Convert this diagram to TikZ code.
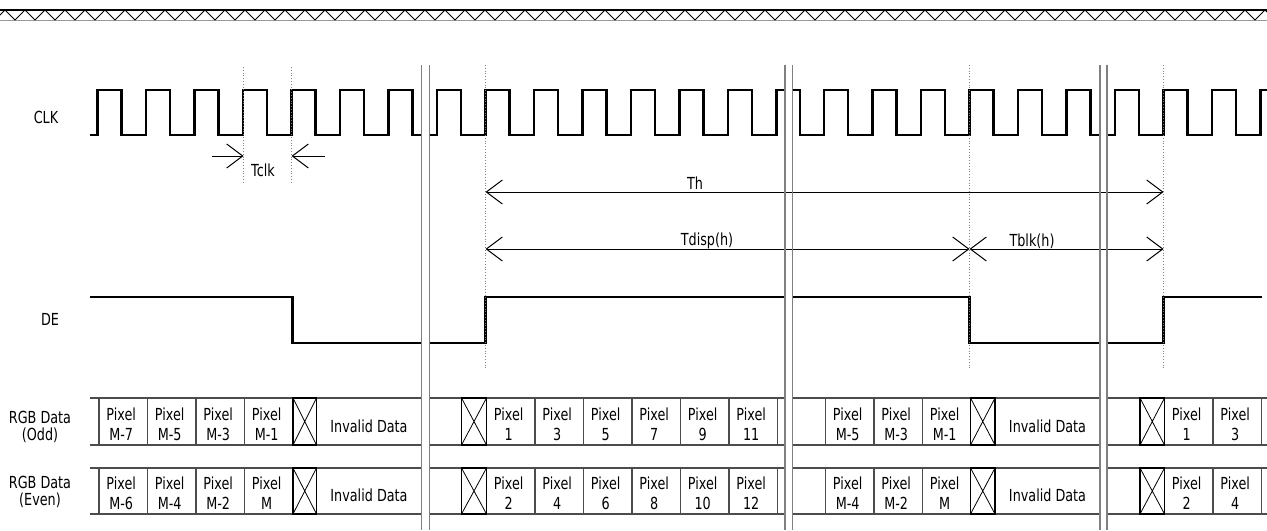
\documentclass[tikz,border=0pt]{standalone}
\usepackage{fontspec}
\setmainfont{DejaVu Sans}[FakeStretch=0.77]
\usetikzlibrary{arrows.meta}

\begin{document}
\begin{tikzpicture}[x=0.5pt,y=-0.5pt,
  >={Straight Barb[length=8pt,width=12pt]},
  txt/.style={font=\fontsize{8.3}{10}\selectfont,inner sep=0pt},
  sig/.style={txt,align=center,font=\fontsize{8.3}{8.5}\selectfont},
  pix/.style={txt,anchor=west,align=center},
  wave/.style={line width=1.2pt,line join=miter},
  brk/.style={gray,line width=0.8pt},
  guide/.style={gray,densely dotted,line width=0.4pt},
  dim/.style={line width=0.5pt},
  rowline/.style={black!70,line width=0.6pt},
  xbox/.style={draw,line width=0.9pt}]
\useasboundingbox (0,0) rectangle (1267,530);

% top band
\draw[line width=0.6pt] (0,10) -- (1267,10);
\draw[black!40,line width=0.4pt] (0,20) -- (1267,20);
\draw[line width=0.5pt] (-5,20) -- (5,10) \foreach \x in {0,20,...,1260} { -- (\x+15,20) -- (\x+25,10) };

% signal names
\node[sig] (clk) at (46,117) {CLK};
\node[sig] (de) at (50,319) {DE};
\node[sig] (rgbo) at (40,427) {RGB Data\\(Odd)};
\node[sig] (rgbe) at (40,492) {RGB Data\\(Even)};

% CLK
\draw[wave] (90,135) \foreach \r in {97.5,146,...,388.5} { -- (\r,135) -- (\r,90) -- (\r+24,90) -- (\r+24,135) } -- (421.5,135);
\draw[wave] (430,135) \foreach \r in {437,485.5,...,728} { -- (\r,135) -- (\r,90) -- (\r+24,90) -- (\r+24,135) } -- (776.5,135) -- (776.5,90) -- (785,90);
\draw[wave] (793,90) -- (800,90) -- (800,135) \foreach \r in {824,872.5,...,1066.5} { -- (\r,135) -- (\r,90) -- (\r+24,90) -- (\r+24,135) } -- (1100,135);
\draw[wave] (1107,135) \foreach \r in {1115,1163.5,1212} { -- (\r,135) -- (\r,90) -- (\r+24,90) -- (\r+24,135) } -- (1260.5,135) -- (1260.5,90) -- (1268,90);

% DE
\draw[wave] (90,297) -- (292.5,297) -- (292.5,343) -- (421.5,343);
\draw[wave] (430,343) -- (485.5,343) -- (485.5,297) -- (785,297);
\draw[wave] (793,297) -- (969.5,297) -- (969.5,343) -- (1100,343);
\draw[wave] (1107,343) -- (1163.5,343) -- (1163.5,297) -- (1262,297);

% guides
\foreach \x in {243.5,291.5} \draw[guide] (\x,67) -- (\x,182);
\foreach \x in {485.5,969.5,1163.5} \draw[guide] (\x,65) -- (\x,370);

% timing arrows
\coordinate (tcA) at (212,156);
\coordinate (tcB) at (243.5,156);
\coordinate (tcC) at (291.5,156);
\coordinate (tcD) at (325,156);
\draw[dim,->] (tcA) -- (tcB);
\draw[dim,->] (tcD) -- (tcC);
\node[txt] (tclk) at (263,170) {Tclk};

\coordinate (thL) at (485.5,192);
\coordinate (thR) at (1163.5,192);
\draw[dim,<->] (thL) -- (thR);
\node[txt] (th) at (695,183) {Th};

\coordinate (tdL) at (485.5,249);
\coordinate (tdR) at (969.5,249);
\coordinate (tbR) at (1163.5,249);
\draw[dim,<->] (tdL) -- (tdR);
\draw[dim,<->] (tdR) -- (tbR);
\node[txt] (tdisp) at (707,241) {Tdisp(h)};
\node[txt] (tblk) at (1032,241) {Tblk(h)};

% data rows
\foreach \a/\b in {90/421.5,430/785,793/1100,1107/1267}
  \foreach \t/\u in {398/445,468/514}
    \draw[rowline] (\a,\t) -- (\b,\t) (\a,\u) -- (\b,\u);
\foreach \x in {99,147.5,196,244.5,486.5,535,583.5,632,680.5,729,777.5,825.5,874,922.5,1164.5,1213,1261.5}
  \foreach \t/\u in {398/445,468/514}
    \draw[rowline] (\x,\t) -- (\x,\u);
\foreach \a/\b in {293/316.5,461.5/486.5,970.5/995,1140/1164.5}
  \foreach \t/\u in {398/445,468/514} {
    \draw[xbox] (\a,\t) rectangle (\b,\u);
    \draw[line width=0.4pt] (\a,\t) -- (\b,\u) (\a,\u) -- (\b,\t);
  }
\foreach \x/\o/\e [count=\i] in {99/M-7/M-6,147.5/M-5/M-4,196/M-3/M-2,244.5/M-1/M,
    486.5/1/2,535/3/4,583.5/5/6,632/7/8,680.5/9/10,729/11/12,
    825.5/M-5/M-4,874/M-3/M-2,922.5/M-1/M,1164.5/1/2,1213/3/4} {
  \node[pix] (odd\i) at (\x+7,424) {Pixel\\\o};
  \node[pix] (even\i) at (\x+7,493) {Pixel\\\e};
}
\node[txt] (invo1) at (369,426) {Invalid Data};
\node[txt] (inve1) at (369,495) {Invalid Data};
\node[txt] (invo2) at (1047.5,426) {Invalid Data};
\node[txt] (inve2) at (1047.5,495) {Invalid Data};

% breaks
\foreach \x in {421.5,429.5,785,792.5,1100,1107}
  \draw[brk] (\x,65) -- (\x,530);
\end{tikzpicture}
\end{document}
